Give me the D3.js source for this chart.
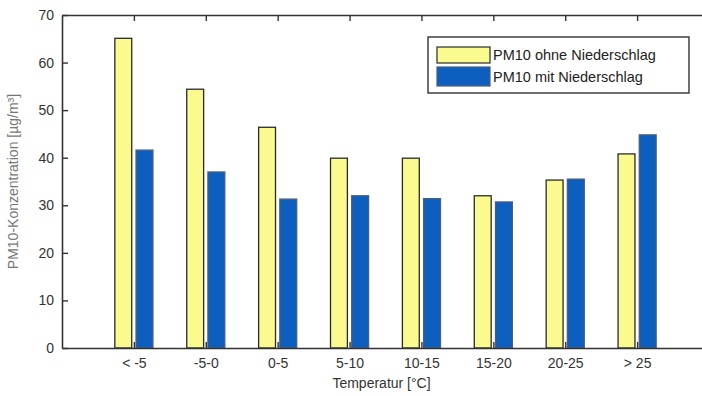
<!DOCTYPE html>
<html>
<head>
<meta charset="utf-8">
<script src="https://cdn.jsdelivr.net/npm/d3@7"></script>
<style>
  body { margin: 0; background: #fff; }
  svg { display: block; font-family: "Liberation Sans", Arial, sans-serif; }
</style>
</head>
<body>
<div id="chart"></div>
<script>
var w = 702;
var h = 396;

// categories and series
var categories = ["< -5", "-5-0", "0-5", "5-10", "10-15", "15-20", "20-25", "> 25"];
var ohneNiederschlag = [65.1, 54.4, 46.4, 39.9, 39.9, 32.0, 35.3, 40.8];
var mitNiederschlag = [41.6, 37.0, 31.3, 32.0, 31.4, 30.7, 35.5, 44.8];
var yTicks = [0, 10, 20, 30, 40, 50, 60, 70];
var seriesNames = ["PM10 ohne Niederschlag", "PM10 mit Niederschlag"];

var yellow = "#fafa8e",
    blue = "#0d5fbf",
    frameColor = "#333";

var margin = {top: 15, right: -7, bottom: 48, left: 62},
    width = w - margin.left - margin.right,
    height = h - margin.top - margin.bottom;

var svg = d3.select("#chart")
    .append("svg")
    .attr("width", w)
    .attr("height", h);

var g = svg.append("g")
    .attr("transform", "translate(" + margin.left + "," + margin.top + ")");

// x is the category index, with half a slot of room either side (like matlab xlim [0 9])
var x = d3.scaleLinear().domain([0, categories.length + 1]).range([0, width]);
var y = d3.scaleLinear().domain([0, 70]).range([height, 0]);
var barW = 0.235; // in category units
var gap = 0.03;

var series = [
  {name: seriesNames[0], values: ohneNiederschlag, color: yellow, stroke: "#2a2a2a", off: -gap - barW},
  {name: seriesNames[1], values: mitNiederschlag, color: blue, stroke: "#4a5f7a", off: gap}
];

// bars
series.forEach(function(s) {
  g.selectAll(".bar-" + s.color.slice(1))
    .data(s.values)
    .enter().append("rect")
      .attr("x", function(d, i) { return x(i + 1 + s.off); })
      .attr("y", function(d) { return y(d); })
      .attr("width", x(barW) - x(0))
      .attr("height", function(d) { return height - y(d); })
      .attr("fill", s.color)
      .attr("stroke", s.stroke)
      .attr("stroke-width", 1.3);
});

var tickIdx = categories.map(function(d, i) { return i + 1; });

// bottom axis (ticks pointing in)
var xAxis = g.append("g")
    .attr("transform", "translate(0," + height + ")")
    .call(d3.axisBottom(x).tickValues(tickIdx)
      .tickFormat(function(d) { return categories[d - 1]; })
      .tickSize(-6).tickSizeOuter(0).tickPadding(10));

// top axis
var xTop = g.append("g")
    .call(d3.axisTop(x).tickValues(tickIdx).tickFormat("")
      .tickSize(-6).tickSizeOuter(0));

// left axis
var yAxis = g.append("g")
    .call(d3.axisLeft(y).tickValues(yTicks).tickSize(-6).tickSizeOuter(0).tickPadding(8));

// right axis
var yRight = g.append("g")
    .attr("transform", "translate(" + width + ",0)")
    .call(d3.axisRight(y).tickValues(yTicks).tickFormat("").tickSize(-6).tickSizeOuter(0));

[xAxis, xTop, yAxis, yRight].forEach(function(a) {
  a.selectAll("path.domain").attr("stroke", frameColor).attr("stroke-width", 1.6);
  a.selectAll(".tick line").attr("stroke", frameColor).attr("stroke-width", 1.4);
  a.selectAll(".tick text").attr("fill", "#333").style("font-size", "14px");
});

// axis labels
g.append("text")
    .attr("x", x(4.5) - 4)
    .attr("y", height + 40)
    .attr("text-anchor", "middle")
    .attr("fill", "#333")
    .style("font-size", "14px")
    .text("Temperatur [°C]");

g.append("text")
    .attr("transform", "translate(" + (-44) + "," + (height / 2) + ") rotate(-90)")
    .attr("text-anchor", "middle")
    .attr("fill", "#777")
    .style("font-size", "14px")
    .text("PM10-Konzentration [µg/m³]");

// legend
var legend = g.append("g")
    .attr("transform", "translate(" + (428 - margin.left) + "," + (37 - margin.top) + ")");

legend.append("rect")
    .attr("width", 261)
    .attr("height", 56)
    .attr("fill", "#fff")
    .attr("stroke", frameColor)
    .attr("stroke-width", 1.4);

series.forEach(function(s, i) {
  var row = legend.append("g").attr("transform", "translate(9," + (10 + i * 20) + ")");
  row.append("rect")
      .attr("width", 53)
      .attr("height", 16 + i * 3)
      .attr("fill", s.color)
      .attr("stroke", s.stroke)
      .attr("stroke-width", 1.2);
  row.append("text")
      .attr("x", 56)
      .attr("y", 13 + i * 2)
      .attr("fill", "#222")
      .style("font-size", "14.5px")
      .text(s.name);
});
</script>
</body>
</html>
